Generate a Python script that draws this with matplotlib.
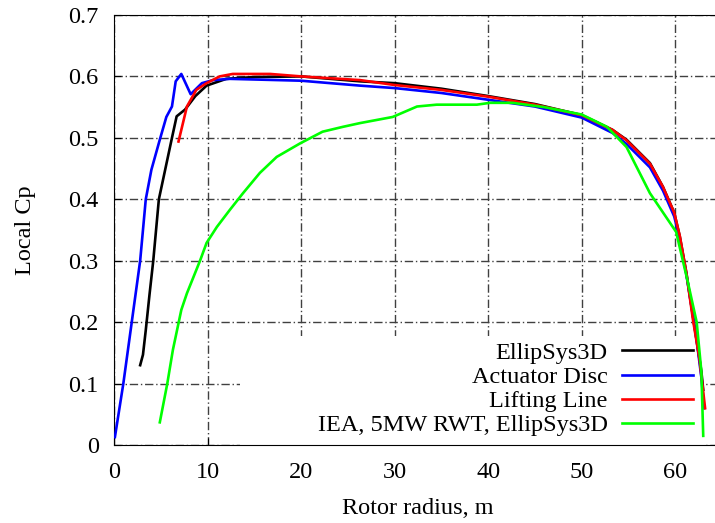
import matplotlib
matplotlib.use("Agg")
import matplotlib.pyplot as plt
from matplotlib.patches import Rectangle

plt.rcParams['font.family'] = ['Liberation Serif', 'DejaVu Serif']

# ---- data ----
ellip_r = [2.8, 3.1, 3.4, 3.8, 4.2, 4.8, 5.5, 6.2, 6.7, 7.6, 8.7, 9.9, 12.0, 15.0, 20.0,
           26.3, 30.0, 35.0, 40.0, 45.0, 50.0, 53.3, 54.8, 57.3, 58.7, 59.9, 60.5, 61.2,
           61.8, 62.3, 62.8, 63.0]
ellip_cp = [0.13, 0.147, 0.187, 0.245, 0.30, 0.40, 0.45, 0.50, 0.535, 0.546, 0.568, 0.585,
            0.596, 0.599, 0.600, 0.592, 0.589, 0.580, 0.568, 0.555, 0.537, 0.513, 0.497,
            0.459, 0.42, 0.378, 0.339, 0.28, 0.22, 0.17, 0.12, 0.09]

ad_r = [0.1, 1.0, 1.9, 2.8, 3.4, 4.0, 4.9, 5.6, 6.2, 6.6, 7.2, 8.2, 9.4, 10.6, 12.4, 20.0,
        26.3, 30.0, 35.0, 40.0, 45.0, 50.0, 53.3, 54.8, 57.3, 58.7, 59.9, 60.5, 61.2,
        61.8, 62.3, 62.8, 63.1]
ad_cp = [0.013, 0.10, 0.20, 0.30, 0.40, 0.448, 0.497, 0.534, 0.551, 0.592, 0.604, 0.571,
         0.589, 0.594, 0.596, 0.593, 0.585, 0.581, 0.573, 0.562, 0.551, 0.533, 0.508,
         0.490, 0.452, 0.414, 0.372, 0.335, 0.277, 0.22, 0.17, 0.11, 0.06]

ll_r = [6.9, 7.8, 8.8, 9.9, 11.3, 12.7, 16.7, 20.0, 26.3, 30.0, 35.0, 40.0, 45.0, 50.0,
        53.3, 54.8, 57.3, 58.7, 59.9, 60.5, 61.2, 61.9, 62.6, 63.2]
ll_cp = [0.494, 0.551, 0.578, 0.589, 0.600, 0.604, 0.604, 0.600, 0.594, 0.586, 0.578,
         0.567, 0.554, 0.537, 0.513, 0.496, 0.458, 0.42, 0.378, 0.34, 0.28, 0.204, 0.14,
         0.06]

iea_r = [4.9, 5.7, 6.3, 7.2, 7.8, 9.2, 9.9, 11.0, 12.4, 13.8, 15.6, 17.4, 19.9, 22.3,
         24.5, 26.3, 29.8, 32.4, 34.5, 38.8, 40.2, 42.6, 46.0, 50.0, 52.7, 54.8, 57.3,
         60.1, 61.3, 62.3, 62.8, 63.0]
iea_cp = [0.037, 0.10, 0.155, 0.22, 0.247, 0.30, 0.329, 0.355, 0.383, 0.41, 0.443, 0.469,
          0.491, 0.51, 0.518, 0.524, 0.534, 0.551, 0.554, 0.554, 0.557, 0.557, 0.550,
          0.538, 0.518, 0.485, 0.41, 0.347, 0.269, 0.2, 0.12, 0.015]

labels = ['EllipSys3D', 'Actuator Disc', 'Lifting Line', 'IEA, 5MW RWT, EllipSys3D']
colors = ['#000000', '#0000ff', '#ff0000', '#00ff00']
xticks = [0, 10, 20, 30, 40, 50, 60]
yticks = [0, 0.1, 0.2, 0.3, 0.4, 0.5, 0.6, 0.7]
ytick_labels = ['0', '0.1', '0.2', '0.3', '0.4', '0.5', '0.6', '0.7']

FS = 17.5

# ---- figure ----
fig = plt.figure(figsize=(7.15, 5.23), dpi=100)
ax = fig.add_axes([0.1594, 0.149, 0.8503, 0.8224])
ax.set_xlim(0, 65)
ax.set_ylim(0, 0.7)
ax.set_axisbelow(True)
ax.grid(True, color='#404040', linestyle=(0, (6, 2, 1, 2)), linewidth=1.0)

# white key box, like gnuplot
ax.add_patch(Rectangle((0.207, 0.0), 0.765, 0.2535, transform=ax.transAxes,
                       facecolor='white', edgecolor='none', zorder=1))

series = [(ellip_r, ellip_cp), (ad_r, ad_cp), (ll_r, ll_cp), (iea_r, iea_cp)]
for (r, cp), lab, c in zip(series, labels, colors):
    ax.plot(r, cp, color=c, linewidth=1.9, label=lab, zorder=3)

ax.set_xticks(xticks)
ax.set_yticks(yticks)
ax.set_yticklabels(ytick_labels)
ax.tick_params(direction='in', labelsize=FS, length=5, top=False, right=False)
ax.tick_params(axis='x', pad=12)
ax.tick_params(axis='y', pad=11)
ax.spines['right'].set_visible(False)

ax.set_xlabel('Rotor radius, m', fontsize=FS)
ax.set_ylabel('Local Cp', fontsize=FS)
ax.xaxis.set_label_coords(0.5, -0.147)
ax.xaxis.label.set_va('center')
ax.yaxis.set_label_coords(-0.146, 0.5)
ax.yaxis.label.set_va('center')

leg = ax.legend(loc='lower right', bbox_to_anchor=(0.952, 0.02), frameon=False,
                markerfirst=False, fontsize=FS, borderpad=0, borderaxespad=0,
                handlelength=2.9, handletextpad=0.6, labelspacing=0.09)
leg.set_zorder(2)

fig.savefig('out.png', dpi=100)
